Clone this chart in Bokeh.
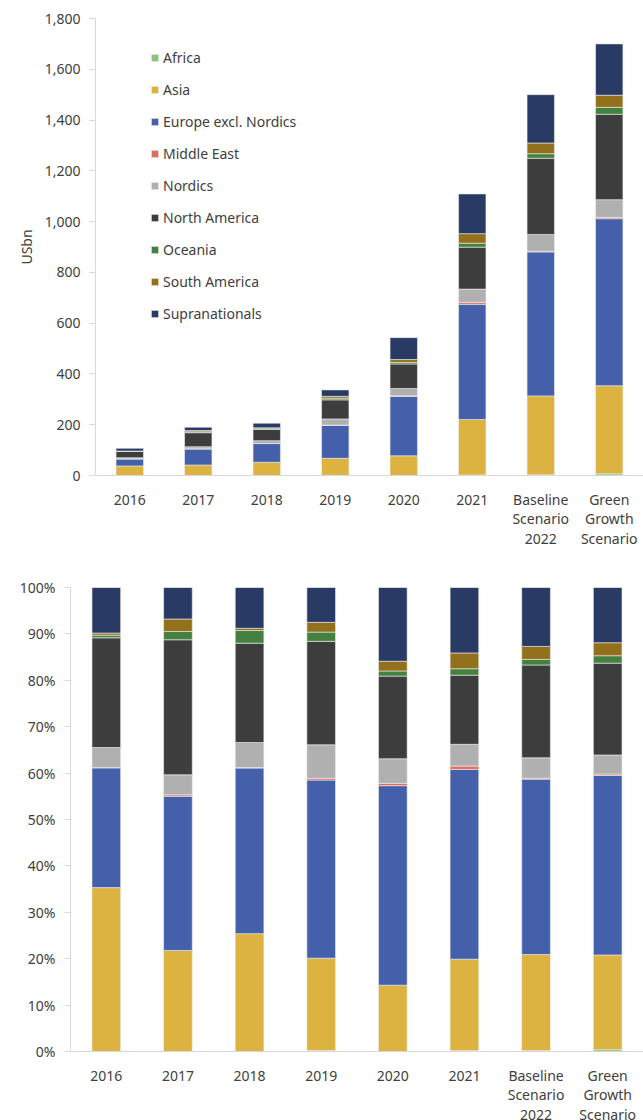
from bokeh.plotting import figure
from bokeh.models import (ColumnDataSource, FactorRange, Range1d, Legend, LegendItem,
                          NumeralTickFormatter, FixedTicker)
from bokeh.embed import file_html
from bokeh.resources import INLINE

categories = ["2016", "2017", "2018", "2019", "2020", "2021",
              "Baseline\nScenario\n2022", "Green\nGrowth\nScenario"]

# USbn per region
africa = [0.0, 0.0, 0.0, 0.7, 0.0, 2.2, 3.0, 6.8]
asia = [37.8, 41.4, 52.3, 67.1, 77.6, 218.5, 310.5, 346.8]
europe = [27.6, 63.1, 73.5, 129.4, 233.5, 453.6, 567.0, 657.9]
middle_east = [0.1, 0.6, 0.2, 1.3, 2.7, 7.8, 3.0, 5.1]
nordics = [4.6, 8.2, 11.1, 24.3, 28.8, 52.1, 66.0, 69.7]
north_america = [25.3, 55.3, 44.1, 75.2, 96.7, 165.2, 300.0, 336.6]
oceania = [0.6, 3.4, 5.6, 6.7, 6.0, 15.5, 18.0, 27.2]
south_america = [0.5, 5.1, 1.0, 7.1, 11.4, 37.7, 42.0, 47.6]
supranationals = [10.5, 12.9, 18.1, 25.3, 86.3, 156.4, 190.5, 202.3]

series_names = ["Africa", "Asia", "Europe excl. Nordics", "Middle East", "Nordics",
                "North America", "Oceania", "South America", "Supranationals"]
series_values = [africa, asia, europe, middle_east, nordics, north_america,
                 oceania, south_america, supranationals]
colors = ["#8BC47F", "#DCB240", "#4460AA", "#E06C5F", "#B0B0B0",
          "#3D3D3D", "#44803F", "#93701C", "#293A65"]

top_ticks = [0, 200, 400, 600, 800, 1000, 1200, 1400, 1600, 1800]
pct_ticks = [0, 0.1, 0.2, 0.3, 0.4, 0.5, 0.6, 0.7, 0.8, 0.9, 1.0]

FONT = "Noto Sans"
TXT = "#404040"

keys = ["s%d" % i for i in range(len(series_names))]
totals = [sum(v[i] for v in series_values) for i in range(len(categories))]

abs_data = {"cat": categories}
pct_data = {"cat": categories}
for k, v in zip(keys, series_values):
    abs_data[k] = v
    pct_data[k] = [x / t for x, t in zip(v, totals)]


def style(p):
    p.outline_line_color = None
    p.xgrid.grid_line_color = None
    p.ygrid.grid_line_color = None
    p.background_fill_color = "white"
    p.border_fill_color = "white"
    for ax in (p.xaxis[0], p.yaxis[0]):
        ax.axis_line_color = "#D9D9D9"
        ax.major_label_text_font = FONT
        ax.major_label_text_font_size = "14px"
        ax.major_label_text_color = TXT
        ax.minor_tick_line_color = None
    p.xaxis.major_tick_line_color = None
    p.xaxis.major_label_standoff = 8
    p.xaxis.major_label_text_line_height = 1.05
    p.yaxis.major_tick_line_color = "#D9D9D9"
    p.yaxis.major_tick_out = 6
    p.yaxis.major_tick_in = 0
    p.yaxis.major_label_standoff = 9


# ---- Top chart: absolute values ----
p1 = figure(x_range=FactorRange(*categories), y_range=Range1d(0, 1800),
            frame_width=548, frame_height=457,
            min_border_left=95, min_border_right=0, min_border_top=18, min_border_bottom=80,
            output_backend="svg", toolbar_location=None)
src1 = ColumnDataSource(abs_data)
r1 = p1.vbar_stack(keys, x="cat", width=0.4, source=src1, fill_color=colors,
                   line_color="#EDEDED", line_width=0.6)
style(p1)
p1.yaxis.ticker = FixedTicker(ticks=top_ticks)
p1.yaxis.formatter = NumeralTickFormatter(format="0,0")
p1.yaxis.axis_label = "USbn"
p1.yaxis.axis_label_text_font = FONT
p1.yaxis.axis_label_text_font_size = "14px"
p1.yaxis.axis_label_text_font_style = "normal"
p1.yaxis.axis_label_text_color = TXT
p1.yaxis.axis_label_standoff = 6

legend = Legend(items=[LegendItem(label=n, renderers=[r]) for n, r in zip(series_names, r1)],
                location=(55, 152), orientation="vertical",
                glyph_width=9, glyph_height=9, label_height=20, spacing=12,
                label_standoff=4, padding=0, margin=0,
                label_text_font=FONT, label_text_font_size="14px", label_text_color=TXT,
                border_line_color=None, background_fill_alpha=0)
p1.add_layout(legend, "center")

# ---- Bottom chart: shares ----
p2 = figure(x_range=FactorRange(*categories), y_range=Range1d(0, 1.0),
            frame_width=573, frame_height=464,
            min_border_left=70, min_border_right=0, min_border_top=32, min_border_bottom=69,
            output_backend="svg", toolbar_location=None)
src2 = ColumnDataSource(pct_data)
p2.vbar_stack(keys, x="cat", width=0.4, source=src2, fill_color=colors,
              line_color="#EDEDED", line_width=0.6)
style(p2)
p2.yaxis.ticker = FixedTicker(ticks=pct_ticks)
p2.yaxis.formatter = NumeralTickFormatter(format="0%")

open("out.html", "w").write(file_html([p1, p2], INLINE))
